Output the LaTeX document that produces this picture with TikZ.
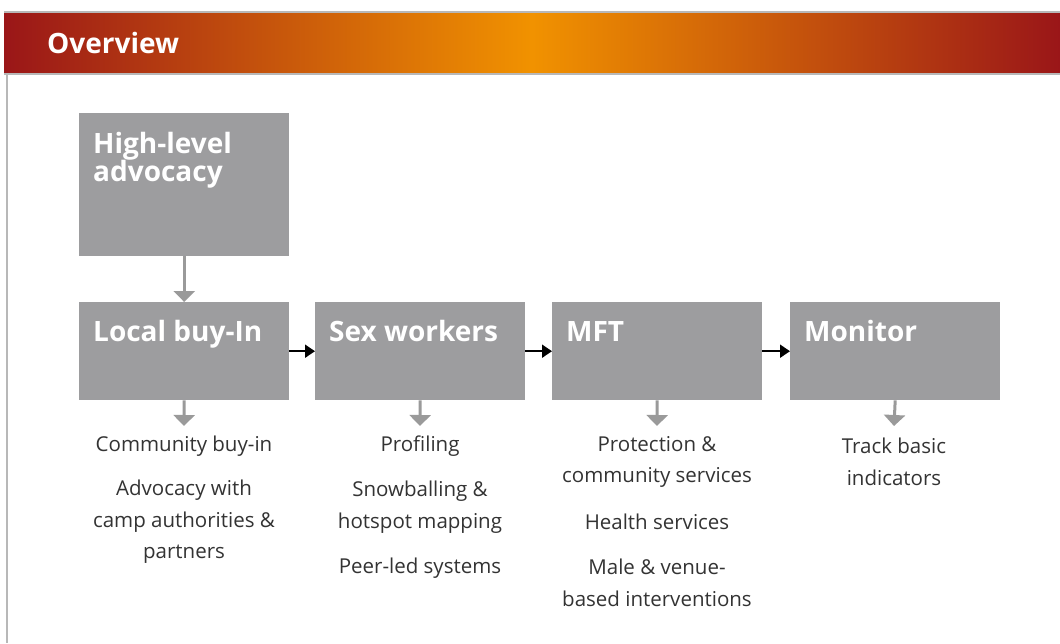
\documentclass[tikz,border=0pt]{standalone}
\usepackage{fontspec}
\setmainfont{Open Sans}
\usetikzlibrary{arrows.meta}
\definecolor{boxgray}{HTML}{9D9D9F}
\definecolor{arrgray}{HTML}{9A9A9A}
\definecolor{txtgray}{HTML}{333333}
\definecolor{bannerred}{HTML}{9A1618}
\definecolor{bannerorange}{HTML}{F19200}
\definecolor{bordergray}{HTML}{B8B8B8}
\tikzset{
  stagebox/.style={fill=boxgray, draw=none, minimum width=210pt, minimum height=98pt, inner sep=0pt},
  boxtitle/.style={text=white, font=\fontsize{28}{28}\selectfont\bfseries, align=left, inner sep=0pt},
  itemtext/.style={text=txtgray, font=\fontsize{20.5}{31.5}\selectfont, align=center, inner sep=0pt},
  downarrow/.style={draw=arrgray, line width=3pt, -{Triangle[width=21pt,length=11pt]}},
  nextarrow/.style={draw=black, line width=1.8pt, -{Triangle[width=13pt,length=10pt]}}
}
\begin{document}
\begin{tikzpicture}[x=1pt,y=-1pt]
\useasboundingbox (0,0) rectangle (1060,643);
% banner
\shade[left color=bannerred, right color=bannerred, middle color=bannerorange, shading=axis] (4,12) rectangle (1060,74);
\draw[bordergray, line width=1.2pt] (4,12) -- (1060,12);
\draw[bordergray, line width=1.2pt] (4,74) -- (1060,74);
\draw[bordergray, line width=2pt] (7,74) -- (7,643);
\node[anchor=base west, text=white, font=\fontsize{28}{28}\selectfont\bfseries, inner sep=0pt] (title) at (47,53) {Overview};

% boxes
\node[stagebox, minimum height=143pt, anchor=north west] (high) at (79,113) {};
\node[boxtitle, anchor=north west] (hight) at ([xshift=14pt,yshift=-19pt]high.north west) {High-level\\advocacy};

\node[stagebox, anchor=north west] (local) at (79,302) {};
\node[stagebox, anchor=north west] (sex) at (315,302) {};
\node[stagebox, anchor=north west] (mft) at (552,302) {};
\node[stagebox, anchor=north west] (mon) at (790,302) {};
\node[boxtitle, anchor=base west] (localt) at ([xshift=14pt,yshift=-39pt]local.north west) {Local buy-In};
\node[boxtitle, anchor=base west] (sext) at ([xshift=14pt,yshift=-39pt]sex.north west) {Sex workers};
\node[boxtitle, anchor=base west] (mftt) at ([xshift=14pt,yshift=-39pt]mft.north west) {MFT};
\node[boxtitle, anchor=base west] (mont) at ([xshift=14pt,yshift=-39pt]mon.north west) {Monitor};

% arrows
\draw[downarrow] (high.south) -- (local.north);
\draw[nextarrow] (local.east) -- (sex.west);
\draw[nextarrow] (sex.east) -- (mft.west);
\draw[nextarrow] (mft.east) -- (mon.west);

\coordinate (e1) at (184,426);
\coordinate (e2) at (420,426);
\coordinate (e3) at (657,426);
\coordinate (e4) at (894,426);
\draw[downarrow] (local.south) -- (e1);
\draw[downarrow] (sex.south) -- (e2);
\draw[downarrow] (mft.south) -- (e3);
\draw[downarrow] (mon.south) -- (e4);

% items
\node[itemtext] (l1) at (184,446) {Community buy-in};
\node[itemtext] (l2) at (184,522) {Advocacy with\\camp authorities \&\\partners};
\node[itemtext] (s1) at (420,446) {Profiling};
\node[itemtext] (s2) at (420,507) {Snowballing \&\\hotspot mapping};
\node[itemtext] (s3) at (420,568) {Peer-led systems};
\node[itemtext] (m1) at (657,462) {Protection \&\\community services};
\node[itemtext] (m2) at (657,522) {Health services};
\node[itemtext] (m3) at (657,583) {Male \& venue-\\based interventions};
\node[itemtext] (t1) at (894,462) {Track basic\\indicators};
\end{tikzpicture}
\end{document}
